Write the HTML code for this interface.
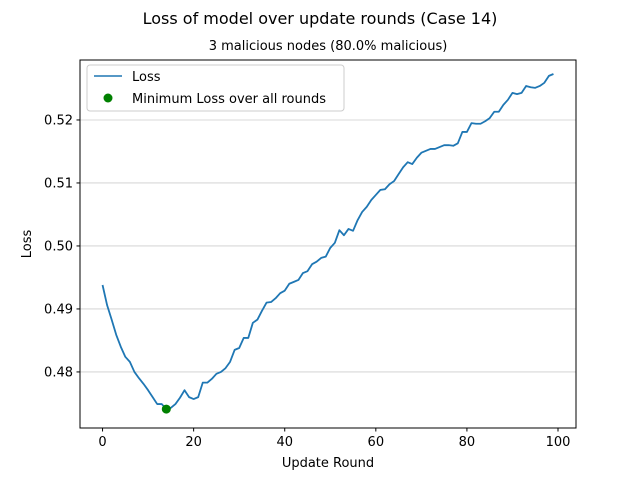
<!DOCTYPE html>
<html><head><meta charset="utf-8"><style>
body{margin:0;background:#fff;font-family:"Liberation Sans","DejaVu Sans",sans-serif;}
svg text{font-family:"DejaVu Sans","Liberation Sans",sans-serif;}
</style></head><body>
<svg id="chart" width="640" height="480" xmlns="http://www.w3.org/2000/svg">
<rect width="640" height="480" fill="#fff"/>
<text x="320" y="24" text-anchor="middle" font-size="16">Loss of model over update rounds (Case 14)</text>
<text x="328" y="50" text-anchor="middle" font-size="13">3 malicious nodes (80.0% malicious)</text>
<g id="grid"></g><g id="ticks"></g><g id="series"></g>
<rect x="80" y="60" width="496" height="368" fill="none" stroke="#000" stroke-width="1"/>
<text x="328" y="467" text-anchor="middle" font-size="13">Update Round</text>
<text transform="translate(31,244) rotate(-90)" text-anchor="middle" font-size="13">Loss</text>
<g>
<rect x="87" y="65" width="257" height="46" rx="3" fill="#fff" fill-opacity="0.8" stroke="#ccc"/>
<line x1="94" y1="76" x2="122" y2="76" stroke="#1f77b4" stroke-width="1.5"/>
<text x="132" y="81" font-size="13">Loss</text>
<circle cx="108" cy="98" r="4.5" fill="green"/>
<text x="132" y="103" font-size="13">Minimum Loss over all rounds</text>
</g>
</svg>
<script>
const rounds=[...Array(100).keys()];
const lossValues=[.4938,.4906,.4883,.4859,.4840,.4824,.4816,.4800,.4790,.4781,.4771,.4760,.4749,.4749,.4741,.4743,.4749,.4759,.4771,.4760,.4757,.4760,.4783,.4783,.4789,.4797,.4800,.4806,.4816,.4835,.4838,.4854,.4854,.4878,.4883,.4897,.4910,.4911,.4917,.4925,.4929,.4940,.4943,.4946,.4957,.4960,.4971,.4975,.4981,.4983,.4997,.5005,.5025,.5017,.5027,.5024,.5041,.5054,.5062,.5073,.5081,.5089,.5090,.5098,.5103,.5114,.5125,.5133,.5130,.5140,.5148,.5151,.5154,.5154,.5157,.5160,.5160,.5159,.5163,.5181,.5181,.5195,.5194,.5194,.5198,.5203,.5213,.5213,.5224,.5232,.5243,.5241,.5243,.5254,.5252,.5251,.5254,.5259,.5270,.5273];
const xTicks=[0,20,40,60,80,100];
const yTicks=[0.48,0.49,0.50,0.51,0.52];
const yTickLabels=["0.48","0.49","0.50","0.51","0.52"];
const NS="http://www.w3.org/2000/svg";
const L=80,R=576,T=60,B=428;
const n=lossValues.length;
const xMin=-(n-1)*0.05,xMax=(n-1)*1.05;
const lo=Math.min(...lossValues),hi=Math.max(...lossValues);
const yMin=0.4711,yMax=0.52952;
const xs=v=>L+(v-xMin)/(xMax-xMin)*(R-L);
const ys=v=>B-(v-yMin)/(yMax-yMin)*(B-T);
function mk(tag,attrs,parent){const e=document.createElementNS(NS,tag);for(const k in attrs)e.setAttribute(k,attrs[k]);document.getElementById(parent).appendChild(e);return e;}
yTicks.forEach((v,i)=>{const y=ys(v);
 const g=mk('line',{x1:L,x2:R,y1:y,y2:y,stroke:'#ccc','stroke-width':0.8},'grid');
 
 
 mk('line',{x1:L-3.5,x2:L,y1:y,y2:y,stroke:'#000'},'ticks');
 const t=mk('text',{x:L-7,y:y+4.5,'text-anchor':'end','font-size':13},'ticks');t.textContent=yTickLabels[i];
 
 
});
xTicks.forEach(v=>{const x=xs(v);
 mk('line',{x1:x,x2:x,y1:B,y2:B+3.5,stroke:'#000'},'ticks');
 const t=mk('text',{x:x,y:B+18,'text-anchor':'middle','font-size':13},'ticks');t.textContent=v;
 
 
});
const p=mk('polyline',{points:lossValues.map((v,i)=>xs(rounds[i])+','+ys(v)).join(' '),fill:'none',stroke:'#1f77b4','stroke-width':1.8,'stroke-linejoin':'round'},'series');


const mi=lossValues.indexOf(lo);
const c=mk('circle',{cx:xs(rounds[mi]),cy:ys(lo),r:4.5,fill:'green'},'series');


</script>
</body></html>
